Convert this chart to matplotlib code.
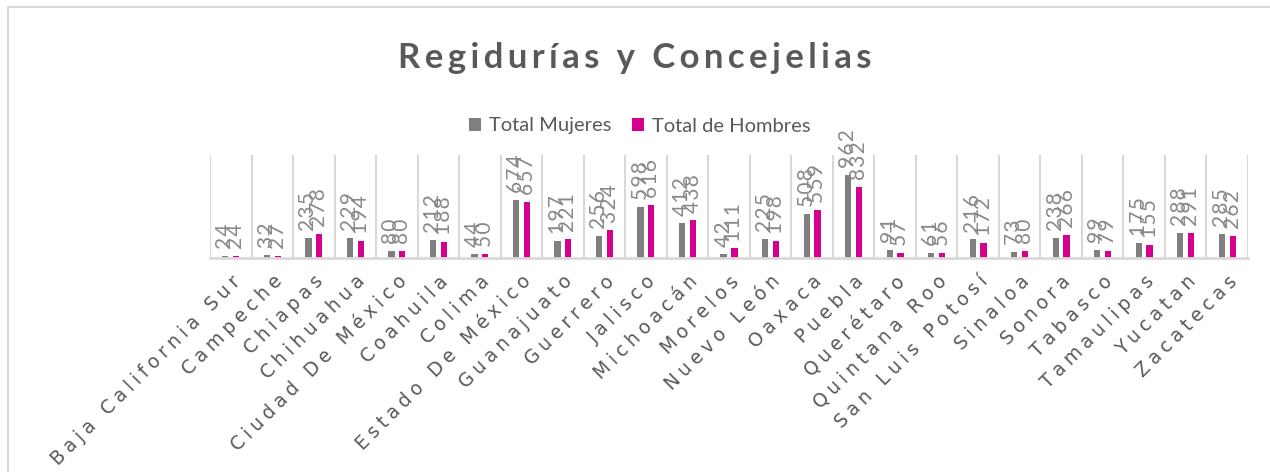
# Regidurías y Concejelias - barras agrupadas por estado
import numpy as np
import matplotlib.pyplot as plt
from matplotlib.patches import Rectangle

# Datos
estados = ['Baja California Sur', 'Campeche', 'Chiapas', 'Chihuahua', 'Ciudad De México',
           'Coahuila', 'Colima', 'Estado De México', 'Guanajuato', 'Guerrero', 'Jalisco',
           'Michoacán', 'Morelos', 'Nuevo León', 'Oaxaca', 'Puebla', 'Querétaro',
           'Quintana Roo', 'San Luis Potosí', 'Sinaloa', 'Sonora', 'Tabasco', 'Tamaulipas',
           'Yucatan', 'Zacatecas']
mujeres = [24, 32, 235, 229, 80, 212, 44, 674, 197, 256, 598, 412, 42, 225, 508, 962, 91,
           61, 216, 73, 238, 99, 175, 288, 285]
hombres = [24, 27, 278, 194, 80, 188, 50, 657, 221, 324, 616, 438, 111, 198, 559, 832, 57,
           56, 172, 80, 266, 79, 155, 291, 262]

gris = '#7F7F7F'
magenta = '#D6008F'
texto = '#595959'
linea = '#D9D9D9'

def spaced(s, sp):
    return sp.join(s)

fig = plt.figure(figsize=(12.7, 4.72), dpi=100)
W, H = 1270, 472
ax = fig.add_axes([210 / W, 1 - 258 / H, 1038 / W, 103 / H])

x = np.arange(len(estados))
w = 0.15
b1 = ax.bar(x - 0.13, mujeres, w, color=gris, label='Total Mujeres')
b2 = ax.bar(x + 0.13, hombres, w, color=magenta, label='Total de Hombres')

# etiquetas de datos
for bars, vals in ((b1, mujeres), (b2, hombres)):
    for r, v in zip(bars, vals):
        ax.annotate(spaced(str(v), '\u200a'), (r.get_x() + r.get_width() / 2, v),
                    xytext=(0, 5), textcoords='offset points', rotation=90,
                    ha='center', va='bottom', fontsize=15, color='#898989',
                    family=['Lato', 'DejaVu Sans'])

ax.set_xlim(-0.5, len(estados) - 0.5)
ax.set_ylim(0, 1200)
ax.set_yticks([])
ax.set_xticks(x)
ax.set_xticklabels([spaced(e, '\u2005') for e in estados], rotation=45, ha='right',
                   rotation_mode='anchor', fontsize=13.5, color=texto,
                   family=['DejaVu Sans'])
ax.tick_params(axis='x', length=0, pad=10)
ax.set_xticks(np.arange(-0.5, len(estados)), minor=True)
ax.tick_params(axis='x', which='minor', length=0)
ax.grid(which='minor', axis='x', color=linea, lw=1.5)
ax.set_axisbelow(True)
for s in ['top', 'left', 'right']:
    ax.spines[s].set_visible(False)
ax.spines['bottom'].set_color(linea)
ax.spines['bottom'].set_linewidth(2)

fig.text(0.5, 1 - 58 / H, spaced('Regidurías y Concejelias', '\u2009'), ha='center',
         va='center', fontsize=25, fontweight='bold', color=texto,
         family=['Lato', 'DejaVu Sans'])

fig.legend(handles=[b1, b2], loc='center', bbox_to_anchor=(640 / W, 1 - 126 / H),
           ncol=2, frameon=False, handlelength=0.6, handleheight=0.6,
           handletextpad=0.4, columnspacing=1.0, labelcolor=texto,
           prop={'family': 'Lato', 'size': 14.5})

# borde del gráfico
fig.add_artist(Rectangle((8 / W, -0.1), 1.1, 1.1 - 7 / H, transform=fig.transFigure,
                         fill=False, ec=linea, lw=1.5))

fig.savefig('out.png', dpi=100)
